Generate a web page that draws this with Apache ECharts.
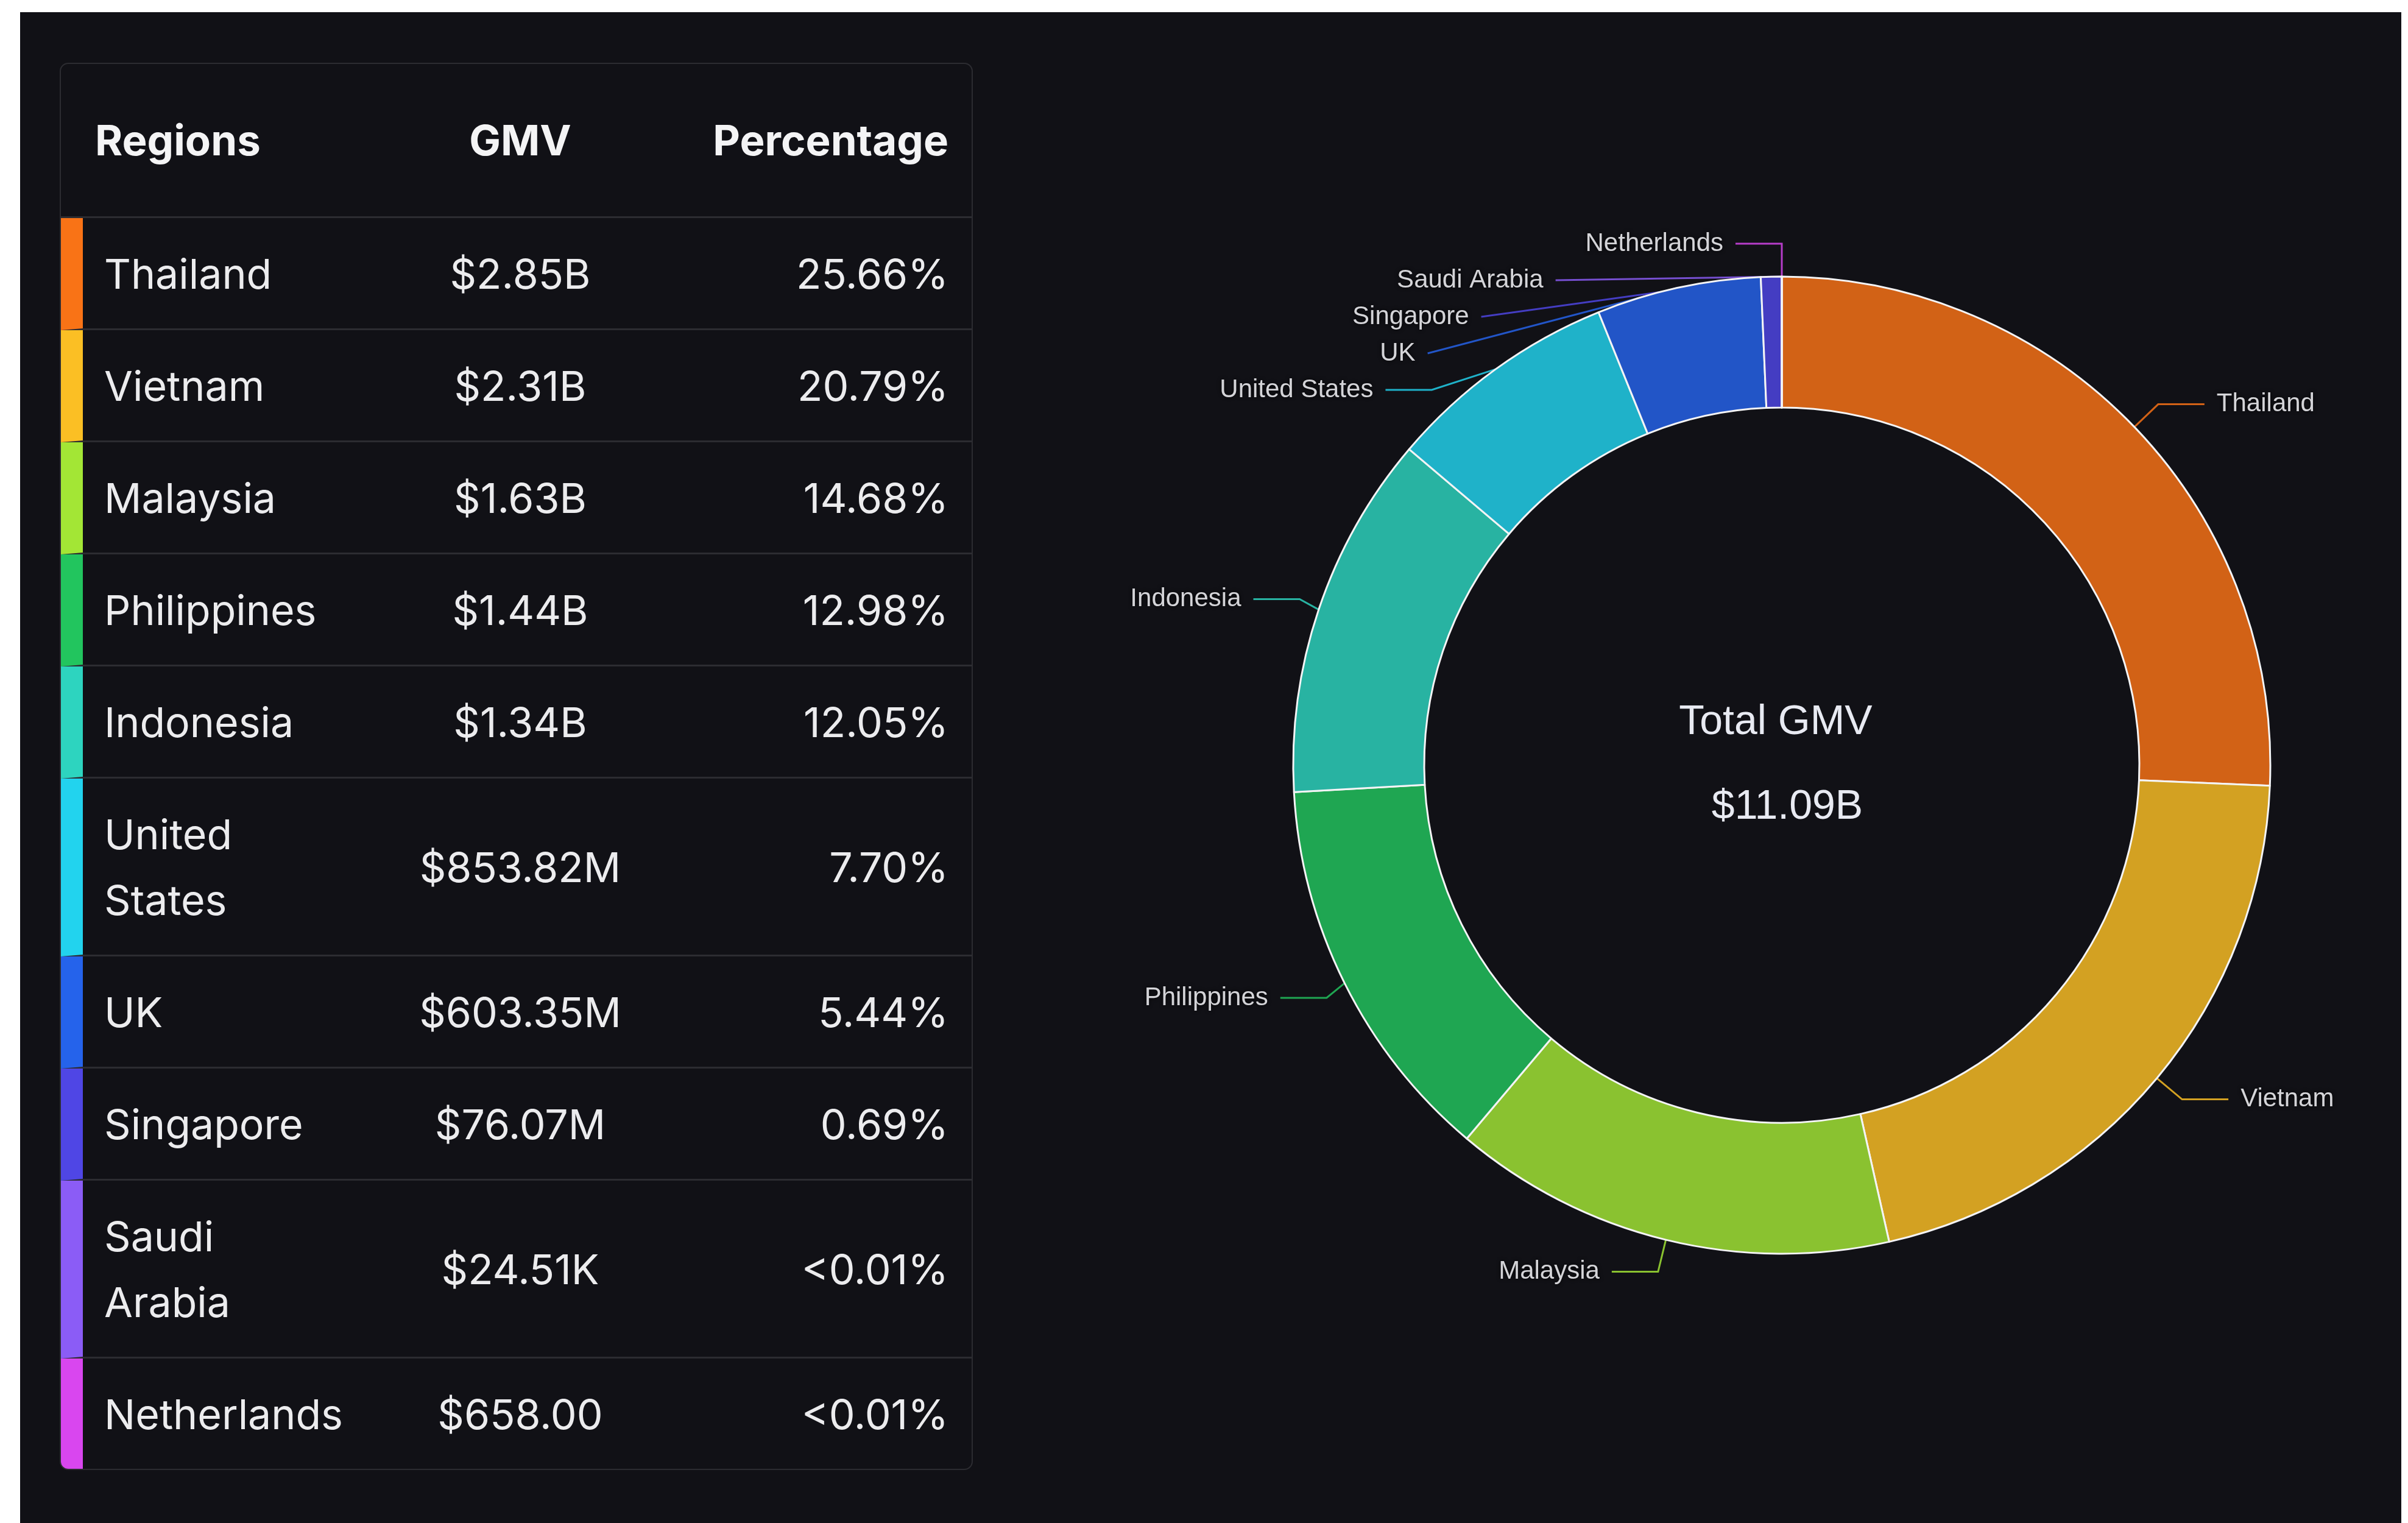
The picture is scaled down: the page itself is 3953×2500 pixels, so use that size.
<!DOCTYPE html>
<html>
<head>
<meta charset="utf-8">
<title>GMV by region</title>
<script src="https://cdn.jsdelivr.net/npm/echarts@6/dist/echarts.min.js"></script>
<style>
  html, body {
    margin: 0;
    padding: 0;
    width: 3953px;
    height: 2500px;
    overflow: hidden;
    background: #ffffff;
  }
  .panel {
    position: absolute;
    left: 33px;
    top: 20px;
    width: 3909px;
    height: 2480px;
    background: #111116;
  }
  .gmv-table {
    position: absolute;
    left: 65px;
    top: 83px;
    width: 1495px;
    border: 2px solid #2c2c31;
    border-radius: 14px;
    border-spacing: 0;
    border-collapse: separate;
    table-layout: fixed;
    overflow: hidden;
    font-family: Inter, "Noto Sans", sans-serif;
    color: #ececee;
  }
  .gmv-table th {
    height: 250px;
    font-size: 69px;
    font-weight: 700;
    color: #f4f4f5;
    border-bottom: 3px solid #2c2c31;
    padding: 0;
  }
  .gmv-table td {
    font-size: 68px;
    line-height: 108px;
    padding: 37px 0 36px 0;
    border-bottom: 3px solid #2c2c31;
  }
  .gmv-table tr:last-child td { border-bottom: none; }
  .gmv-table .c1 { text-align: left; }
  .gmv-table th.c1 { padding-left: 56px; }
  .gmv-table td.c1 { padding-left: 35px; padding-right: 53px; border-left: 36px solid; }
  .gmv-table .c2 { text-align: center; }
  .gmv-table .c3 { text-align: right; padding-right: 38px; }
  #chart {
    position: absolute;
    left: 1617px;
    top: 0;
    width: 2292px;
    height: 2480px;
  }
</style>
</head>
<body>
<div class="panel">
  <table class="gmv-table" id="tbl">
    <colgroup>
      <col style="width:522px">
      <col style="width:464px">
      <col style="width:509px">
    </colgroup>
    <thead>
      <tr><th class="c1">Regions</th><th class="c2">GMV</th><th class="c3">Percentage</th></tr>
    </thead>
    <tbody></tbody>
  </table>
  <div id="chart"></div>
</div>
<script>
// regions, in the order of the table and of the donut (clockwise from 12 o'clock)
const regions = ["Thailand", "Vietnam", "Malaysia", "Philippines", "Indonesia",
  "United States", "UK", "Singapore", "Saudi Arabia", "Netherlands"];
// GMV in dollars
const gmvValues = [2850000000, 2310000000, 1630000000, 1440000000, 1340000000,
  853820000, 603350000, 76070000, 24510, 658];
const gmvLabels = ["$2.85B", "$2.31B", "$1.63B", "$1.44B", "$1.34B",
  "$853.82M", "$603.35M", "$76.07M", "$24.51K", "$658.00"];
const pctLabels = ["25.66%", "20.79%", "14.68%", "12.98%", "12.05%",
  "7.70%", "5.44%", "0.69%", "<0.01%", "<0.01%"];
const totalLabel = "$11.09B";

const colors = ["#f97316", "#fbbf24", "#a3e635", "#22c55e", "#2dd4bf",
  "#22d3ee", "#2563eb", "#4f46e5", "#8b5cf6", "#d946ef"];
const bg = "#111116";

// slice colours look like the table colours laid over the dark panel
function mix(hex, base, a) {
  const p = (h, i) => parseInt(h.slice(i, i + 2), 16);
  const out = [1, 3, 5].map((i) => Math.round(p(hex, i) * a + p(base, i) * (1 - a)));
  return "rgb(" + out.join(",") + ")";
}

// table
const tbody = document.querySelector("#tbl tbody");
regions.forEach((name, i) => {
  const tr = document.createElement("tr");
  tr.innerHTML =
    '<td class="c1" style="border-left-color:' + colors[i] + '">' + name + "</td>" +
    '<td class="c2">' + gmvLabels[i] + "</td>" +
    '<td class="c3">' + pctLabels[i] + "</td>";
  tbody.appendChild(tr);
});

// donut
const myChart = echarts.init(document.getElementById("chart"));
const seriesData = regions.map((name, i) => ({
  name: name,
  value: gmvValues[i],
  itemStyle: { color: mix(colors[i], bg, 0.83) },
}));

const option = {
  backgroundColor: "transparent",
  animation: false,
  graphic: [
    {
      type: "text",
      x: 1265,
      y: 1166,
      style: {
        text: "Total GMV",
        fill: "#e8eaf2",
        font: '68px "Liberation Sans", Arial, sans-serif',
        textAlign: "center",
        textVerticalAlign: "middle",
      },
    },
    {
      type: "text",
      x: 1284,
      y: 1305,
      style: {
        text: totalLabel,
        fill: "#e8eaf2",
        font: '68px "Liberation Sans", Arial, sans-serif',
        textAlign: "center",
        textVerticalAlign: "middle",
      },
    },
  ],
  series: [
    {
      type: "pie",
      center: [1275, 1236],
      radius: [587, 802],
      startAngle: 90,
      clockwise: true,
      itemStyle: {
        borderColor: "#f4f4f5",
        borderWidth: 3,
      },
      label: {
        show: true,
        position: "outside",
        formatter: "{b}",
        color: "#d4d4d8",
        fontSize: 42,
        fontFamily: '"Liberation Sans", Arial, sans-serif',
        lineHeight: 58,
        textShadowColor: "rgba(0,0,0,0.9)",
        textShadowBlur: 6,
        distanceToLabelLine: 20,
      },
      labelLine: {
        show: true,
        length: 54,
        length2: 76,
        lineStyle: { width: 3 },
      },
      emphasis: { scale: false },
      data: seriesData,
    },
  ],
};
myChart.setOption(option);
</script>
</body>
</html>
